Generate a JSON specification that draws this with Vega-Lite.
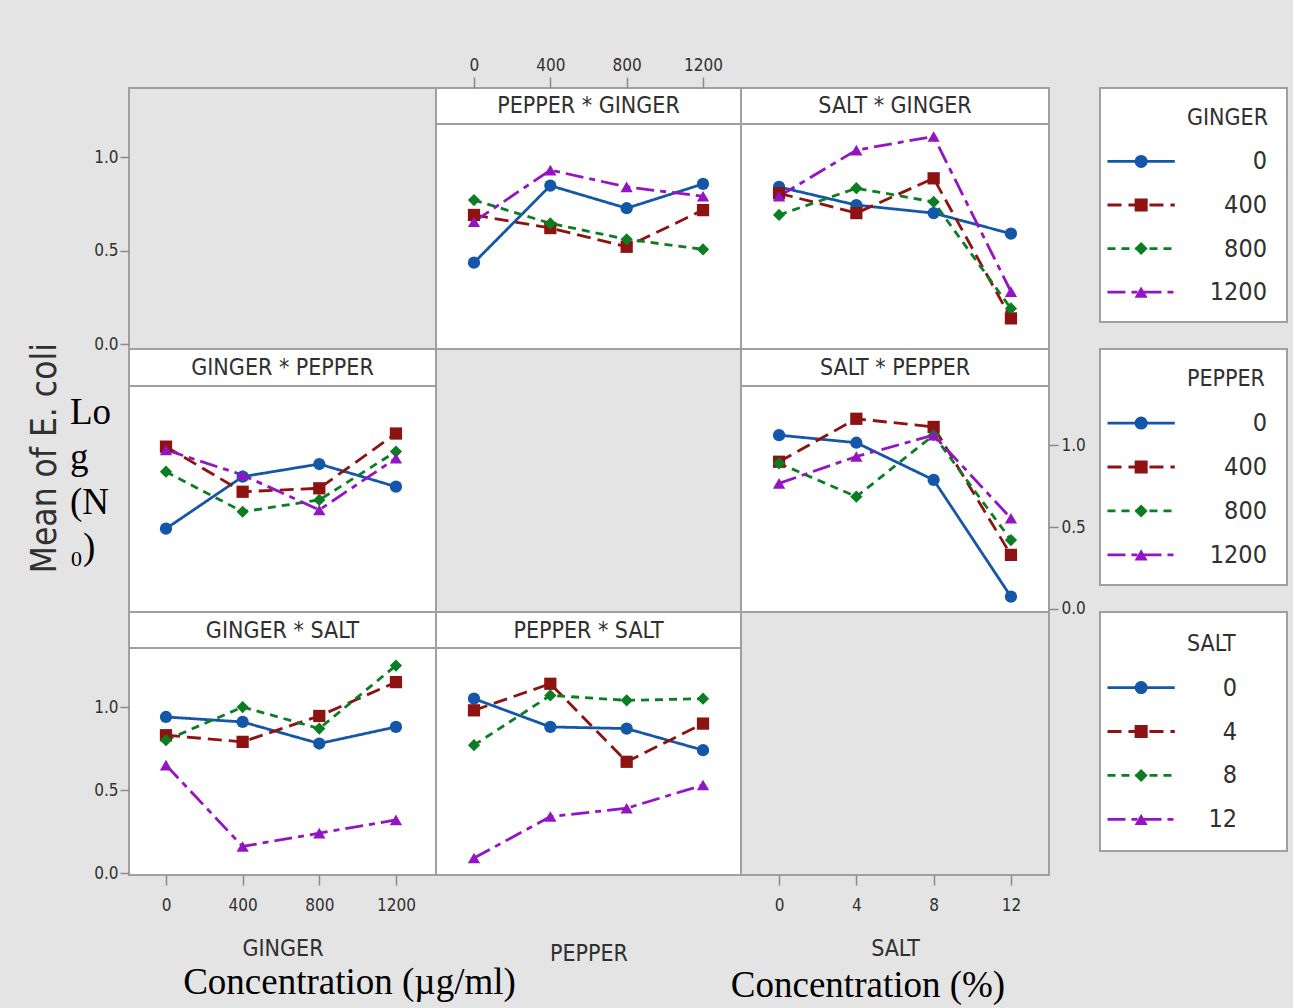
{
  "$schema": "https://vega.github.io/schema/vega-lite/v6.json",
  "background": "#e4e4e4",
  "padding": {"left": 10, "top": 55, "right": 5, "bottom": 5},
  "columns": 6,
  "spacing": 0,
  "bounds": "flush",
  "align": "each",
  "resolve": {"scale": {"x": "independent", "y": "independent", "color": "independent", "shape": "independent", "strokeDash": "independent"}},
  "datasets": {
    "means": [
      {"panel": "PEPPER * GINGER", "x": 0, "level": "0", "value": 0.435},
      {"panel": "PEPPER * GINGER", "x": 400, "level": "0", "value": 0.847},
      {"panel": "PEPPER * GINGER", "x": 800, "level": "0", "value": 0.726},
      {"panel": "PEPPER * GINGER", "x": 1200, "level": "0", "value": 0.856},
      {"panel": "PEPPER * GINGER", "x": 0, "level": "400", "value": 0.69},
      {"panel": "PEPPER * GINGER", "x": 400, "level": "400", "value": 0.62},
      {"panel": "PEPPER * GINGER", "x": 800, "level": "400", "value": 0.52},
      {"panel": "PEPPER * GINGER", "x": 1200, "level": "400", "value": 0.716},
      {"panel": "PEPPER * GINGER", "x": 0, "level": "800", "value": 0.77},
      {"panel": "PEPPER * GINGER", "x": 400, "level": "800", "value": 0.645},
      {"panel": "PEPPER * GINGER", "x": 800, "level": "800", "value": 0.56},
      {"panel": "PEPPER * GINGER", "x": 1200, "level": "800", "value": 0.506},
      {"panel": "PEPPER * GINGER", "x": 0, "level": "1200", "value": 0.654},
      {"panel": "PEPPER * GINGER", "x": 400, "level": "1200", "value": 0.93},
      {"panel": "PEPPER * GINGER", "x": 800, "level": "1200", "value": 0.84},
      {"panel": "PEPPER * GINGER", "x": 1200, "level": "1200", "value": 0.79},
      {"panel": "SALT * GINGER", "x": 0, "level": "0", "value": 0.84},
      {"panel": "SALT * GINGER", "x": 4, "level": "0", "value": 0.743},
      {"panel": "SALT * GINGER", "x": 8, "level": "0", "value": 0.70},
      {"panel": "SALT * GINGER", "x": 12, "level": "0", "value": 0.59},
      {"panel": "SALT * GINGER", "x": 0, "level": "400", "value": 0.806},
      {"panel": "SALT * GINGER", "x": 4, "level": "400", "value": 0.70},
      {"panel": "SALT * GINGER", "x": 8, "level": "400", "value": 0.886},
      {"panel": "SALT * GINGER", "x": 12, "level": "400", "value": 0.137},
      {"panel": "SALT * GINGER", "x": 0, "level": "800", "value": 0.69},
      {"panel": "SALT * GINGER", "x": 4, "level": "800", "value": 0.833},
      {"panel": "SALT * GINGER", "x": 8, "level": "800", "value": 0.76},
      {"panel": "SALT * GINGER", "x": 12, "level": "800", "value": 0.19},
      {"panel": "SALT * GINGER", "x": 0, "level": "1200", "value": 0.79},
      {"panel": "SALT * GINGER", "x": 4, "level": "1200", "value": 1.037},
      {"panel": "SALT * GINGER", "x": 8, "level": "1200", "value": 1.11},
      {"panel": "SALT * GINGER", "x": 12, "level": "1200", "value": 0.28},
      {"panel": "GINGER * PEPPER", "x": 0, "level": "0", "value": 0.49},
      {"panel": "GINGER * PEPPER", "x": 400, "level": "0", "value": 0.807},
      {"panel": "GINGER * PEPPER", "x": 800, "level": "0", "value": 0.884},
      {"panel": "GINGER * PEPPER", "x": 1200, "level": "0", "value": 0.746},
      {"panel": "GINGER * PEPPER", "x": 0, "level": "400", "value": 0.99},
      {"panel": "GINGER * PEPPER", "x": 400, "level": "400", "value": 0.715},
      {"panel": "GINGER * PEPPER", "x": 800, "level": "400", "value": 0.736},
      {"panel": "GINGER * PEPPER", "x": 1200, "level": "400", "value": 1.07},
      {"panel": "GINGER * PEPPER", "x": 0, "level": "800", "value": 0.837},
      {"panel": "GINGER * PEPPER", "x": 400, "level": "800", "value": 0.593},
      {"panel": "GINGER * PEPPER", "x": 800, "level": "800", "value": 0.665},
      {"panel": "GINGER * PEPPER", "x": 1200, "level": "800", "value": 0.96},
      {"panel": "GINGER * PEPPER", "x": 0, "level": "1200", "value": 0.97},
      {"panel": "GINGER * PEPPER", "x": 400, "level": "1200", "value": 0.817},
      {"panel": "GINGER * PEPPER", "x": 800, "level": "1200", "value": 0.604},
      {"panel": "GINGER * PEPPER", "x": 1200, "level": "1200", "value": 0.919},
      {"panel": "SALT * PEPPER", "x": 0, "level": "0", "value": 1.06},
      {"panel": "SALT * PEPPER", "x": 4, "level": "0", "value": 1.014},
      {"panel": "SALT * PEPPER", "x": 8, "level": "0", "value": 0.787},
      {"panel": "SALT * PEPPER", "x": 12, "level": "0", "value": 0.075},
      {"panel": "SALT * PEPPER", "x": 0, "level": "400", "value": 0.898},
      {"panel": "SALT * PEPPER", "x": 4, "level": "400", "value": 1.16},
      {"panel": "SALT * PEPPER", "x": 8, "level": "400", "value": 1.11},
      {"panel": "SALT * PEPPER", "x": 12, "level": "400", "value": 0.33},
      {"panel": "SALT * PEPPER", "x": 0, "level": "800", "value": 0.888},
      {"panel": "SALT * PEPPER", "x": 4, "level": "800", "value": 0.685},
      {"panel": "SALT * PEPPER", "x": 8, "level": "800", "value": 1.06},
      {"panel": "SALT * PEPPER", "x": 12, "level": "800", "value": 0.42},
      {"panel": "SALT * PEPPER", "x": 0, "level": "1200", "value": 0.766},
      {"panel": "SALT * PEPPER", "x": 4, "level": "1200", "value": 0.93},
      {"panel": "SALT * PEPPER", "x": 8, "level": "1200", "value": 1.06},
      {"panel": "SALT * PEPPER", "x": 12, "level": "1200", "value": 0.553},
      {"panel": "GINGER * SALT", "x": 0, "level": "0", "value": 0.94},
      {"panel": "GINGER * SALT", "x": 400, "level": "0", "value": 0.91},
      {"panel": "GINGER * SALT", "x": 800, "level": "0", "value": 0.78},
      {"panel": "GINGER * SALT", "x": 1200, "level": "0", "value": 0.88},
      {"panel": "GINGER * SALT", "x": 0, "level": "4", "value": 0.83},
      {"panel": "GINGER * SALT", "x": 400, "level": "4", "value": 0.79},
      {"panel": "GINGER * SALT", "x": 800, "level": "4", "value": 0.946},
      {"panel": "GINGER * SALT", "x": 1200, "level": "4", "value": 1.15},
      {"panel": "GINGER * SALT", "x": 0, "level": "8", "value": 0.80},
      {"panel": "GINGER * SALT", "x": 400, "level": "8", "value": 1.0},
      {"panel": "GINGER * SALT", "x": 800, "level": "8", "value": 0.87},
      {"panel": "GINGER * SALT", "x": 1200, "level": "8", "value": 1.25},
      {"panel": "GINGER * SALT", "x": 0, "level": "12", "value": 0.65},
      {"panel": "GINGER * SALT", "x": 400, "level": "12", "value": 0.16},
      {"panel": "GINGER * SALT", "x": 800, "level": "12", "value": 0.24},
      {"panel": "GINGER * SALT", "x": 1200, "level": "12", "value": 0.32},
      {"panel": "PEPPER * SALT", "x": 0, "level": "0", "value": 1.05},
      {"panel": "PEPPER * SALT", "x": 400, "level": "0", "value": 0.88},
      {"panel": "PEPPER * SALT", "x": 800, "level": "0", "value": 0.87},
      {"panel": "PEPPER * SALT", "x": 1200, "level": "0", "value": 0.74},
      {"panel": "PEPPER * SALT", "x": 0, "level": "4", "value": 0.98},
      {"panel": "PEPPER * SALT", "x": 400, "level": "4", "value": 1.14},
      {"panel": "PEPPER * SALT", "x": 800, "level": "4", "value": 0.67},
      {"panel": "PEPPER * SALT", "x": 1200, "level": "4", "value": 0.90},
      {"panel": "PEPPER * SALT", "x": 0, "level": "8", "value": 0.77},
      {"panel": "PEPPER * SALT", "x": 400, "level": "8", "value": 1.07},
      {"panel": "PEPPER * SALT", "x": 800, "level": "8", "value": 1.04},
      {"panel": "PEPPER * SALT", "x": 1200, "level": "8", "value": 1.05},
      {"panel": "PEPPER * SALT", "x": 0, "level": "12", "value": 0.09},
      {"panel": "PEPPER * SALT", "x": 400, "level": "12", "value": 0.34},
      {"panel": "PEPPER * SALT", "x": 800, "level": "12", "value": 0.39},
      {"panel": "PEPPER * SALT", "x": 1200, "level": "12", "value": 0.53}
    ],
    "legend": [
      {"factor": "GINGER", "level": "0"}, {"factor": "GINGER", "level": "400"}, {"factor": "GINGER", "level": "800"}, {"factor": "GINGER", "level": "1200"},
      {"factor": "PEPPER", "level": "0"}, {"factor": "PEPPER", "level": "400"}, {"factor": "PEPPER", "level": "800"}, {"factor": "PEPPER", "level": "1200"},
      {"factor": "SALT", "level": "0"}, {"factor": "SALT", "level": "4"}, {"factor": "SALT", "level": "8"}, {"factor": "SALT", "level": "12"}
    ]
  },
  "concat": [
    {"width": 119, "height": 261, "view": {"stroke": null, "fill": null}, "data": {"values": [{}]}, "mark": {"type": "point", "opacity": 0}},
    {"width": 307, "height": 261, "view": {"fill": "#e4e4e4", "stroke": "#a0a0a0", "strokeWidth": 2}, "data": {"values": [{}]}, "mark": {"type": "point", "opacity": 0},
     "encoding": {"y": {"datum": 0.5, "type": "quantitative", "scale": {"domain": [-0.0267, 1.369], "nice": false, "zero": false}, "axis": {"orient": "left", "values": [0, 0.5, 1], "format": ".1f", "title": null, "tickSize": 9, "labelPadding": 2}}}},
    {"width": 305, "height": 261, "view": {"fill": "white", "stroke": "#a0a0a0", "strokeWidth": 2},
     "layer": [
       {"data": {"name": "means"}, "transform": [{"filter": "datum.panel === 'PEPPER * GINGER'"}], "mark": {"type": "line", "strokeWidth": 2.8},
        "encoding": {
          "x": {"field": "x", "type": "quantitative", "scale": {"domain": [-199, 1399], "nice": false, "zero": false}, "axis": {"orient": "top", "values": [0, 400, 800, 1200], "format": "d", "title": null, "tickSize": 11, "labelPadding": 3}},
          "y": {"field": "value", "type": "quantitative", "scale": {"domain": [-0.0267, 1.369], "nice": false, "zero": false}, "axis": null},
          "color": {"field": "level", "type": "nominal", "scale": {"domain": ["0", "400", "800", "1200"], "range": ["#1457a8", "#8e1212", "#0b7d22", "#9414c4"]}, "legend": null},
          "strokeDash": {"field": "level", "type": "nominal", "scale": {"domain": ["0", "400", "800", "1200"], "range": [[1, 0], [14, 7], [8, 6], [18, 6, 6, 6]]}, "legend": null}}},
       {"data": {"name": "means"}, "transform": [{"filter": "datum.panel === 'PEPPER * GINGER'"}], "mark": {"type": "point", "filled": true, "size": 150, "opacity": 1},
        "encoding": {
          "x": {"field": "x", "type": "quantitative"},
          "y": {"field": "value", "type": "quantitative"},
          "color": {"field": "level", "type": "nominal", "scale": {"domain": ["0", "400", "800", "1200"], "range": ["#1457a8", "#8e1212", "#0b7d22", "#9414c4"]}, "legend": null},
          "shape": {"field": "level", "type": "nominal", "scale": {"domain": ["0", "400", "800", "1200"], "range": ["circle", "square", "diamond", "triangle-up"]}, "legend": null}}},
       {"data": {"values": [{"panel": "PEPPER * GINGER"}]}, "mark": {"type": "rule", "color": "#a0a0a0", "strokeWidth": 2}, "encoding": {"y": {"datum": 1.1765, "type": "quantitative"}}},
       {"data": {"values": [{"panel": "PEPPER * GINGER"}]}, "mark": {"type": "text", "fontSize": 23, "color": "#303030", "baseline": "middle"}, "encoding": {"y": {"datum": 1.2727, "type": "quantitative"}, "text": {"field": "panel"}}}
     ]},
    {"width": 308, "height": 261, "view": {"fill": "white", "stroke": "#a0a0a0", "strokeWidth": 2},
     "layer": [
       {"data": {"name": "means"}, "transform": [{"filter": "datum.panel === 'SALT * GINGER'"}], "mark": {"type": "line", "strokeWidth": 2.8},
        "encoding": {
          "x": {"field": "x", "type": "quantitative", "scale": {"domain": [-1.97, 13.97], "nice": false, "zero": false}, "axis": null},
          "y": {"field": "value", "type": "quantitative", "scale": {"domain": [-0.0267, 1.369], "nice": false, "zero": false}, "axis": null},
          "color": {"field": "level", "type": "nominal", "scale": {"domain": ["0", "400", "800", "1200"], "range": ["#1457a8", "#8e1212", "#0b7d22", "#9414c4"]}, "legend": null},
          "strokeDash": {"field": "level", "type": "nominal", "scale": {"domain": ["0", "400", "800", "1200"], "range": [[1, 0], [14, 7], [8, 6], [18, 6, 6, 6]]}, "legend": null}}},
       {"data": {"name": "means"}, "transform": [{"filter": "datum.panel === 'SALT * GINGER'"}], "mark": {"type": "point", "filled": true, "size": 150, "opacity": 1},
        "encoding": {
          "x": {"field": "x", "type": "quantitative"},
          "y": {"field": "value", "type": "quantitative"},
          "color": {"field": "level", "type": "nominal", "scale": {"domain": ["0", "400", "800", "1200"], "range": ["#1457a8", "#8e1212", "#0b7d22", "#9414c4"]}, "legend": null},
          "shape": {"field": "level", "type": "nominal", "scale": {"domain": ["0", "400", "800", "1200"], "range": ["circle", "square", "diamond", "triangle-up"]}, "legend": null}}},
       {"data": {"values": [{"panel": "SALT * GINGER"}]}, "mark": {"type": "rule", "color": "#a0a0a0", "strokeWidth": 2}, "encoding": {"y": {"datum": 1.1765, "type": "quantitative"}}},
       {"data": {"values": [{"panel": "SALT * GINGER"}]}, "mark": {"type": "text", "fontSize": 23, "color": "#303030", "baseline": "middle"}, "encoding": {"y": {"datum": 1.2727, "type": "quantitative"}, "text": {"field": "panel"}}}
     ]},
    {"width": 51, "height": 261, "view": {"stroke": null, "fill": null}, "data": {"values": [{}]}, "mark": {"type": "point", "opacity": 0}},
    {"width": 187, "height": 234, "view": {"fill": "white", "stroke": "#a0a0a0", "strokeWidth": 2},
     "layer": [
       {"data": {"name": "legend"}, "transform": [{"filter": "datum.factor === 'GINGER'"}], "mark": {"type": "rule", "strokeWidth": 2.8},
        "encoding": {"x": {"datum": 0.04, "type": "quantitative", "scale": {"domain": [0, 1]}, "axis": null}, "x2": {"datum": 0.4},
          "y": {"field": "level", "type": "ordinal", "scale": {"type": "point", "domain": ["GINGER", "0", "400", "800", "1200"], "padding": 0.686}, "axis": null},
          "color": {"field": "level", "type": "nominal", "scale": {"domain": ["0", "400", "800", "1200"], "range": ["#1457a8", "#8e1212", "#0b7d22", "#9414c4"]}, "legend": null},
          "strokeDash": {"field": "level", "type": "nominal", "scale": {"domain": ["0", "400", "800", "1200"], "range": [[1, 0], [14, 7], [8, 6], [18, 6, 6, 6]]}, "legend": null}}},
       {"data": {"name": "legend"}, "transform": [{"filter": "datum.factor === 'GINGER'"}], "mark": {"type": "point", "filled": true, "size": 170, "opacity": 1},
        "encoding": {"x": {"datum": 0.22, "type": "quantitative"}, "y": {"field": "level", "type": "ordinal"},
          "color": {"field": "level", "type": "nominal", "legend": null},
          "shape": {"field": "level", "type": "nominal", "scale": {"domain": ["0", "400", "800", "1200"], "range": ["circle", "square", "diamond", "triangle-up"]}, "legend": null}}},
       {"data": {"name": "legend"}, "transform": [{"filter": "datum.factor === 'GINGER'"}], "mark": {"type": "text", "align": "right", "baseline": "middle", "fontSize": 25, "color": "#303030"},
        "encoding": {"x": {"datum": 0.893, "type": "quantitative"}, "y": {"field": "level", "type": "ordinal"}, "text": {"field": "level"}}},
       {"data": {"values": [{"title": "GINGER"}]}, "mark": {"type": "text", "align": "left", "baseline": "middle", "fontSize": 23, "color": "#303030"},
        "encoding": {"x": {"datum": 0.465, "type": "quantitative"}, "y": {"field": "title", "type": "ordinal"}, "text": {"field": "title"}}}
     ]},

    {"width": 119, "height": 263, "view": {"stroke": null, "fill": null},
     "layer": [
       {"data": {"values": [{"label": "Mean of E. coli"}]}, "mark": {"type": "text", "angle": 270, "align": "center", "baseline": "middle", "fontSize": 35, "color": "#303030"},
        "encoding": {"x": {"datum": 0.294, "type": "quantitative", "scale": {"domain": [0, 1]}, "axis": null}, "y": {"datum": 0.585, "type": "quantitative", "scale": {"domain": [0, 1]}, "axis": null}, "text": {"field": "label"}}},
       {"data": {"values": [{"label": "Lo\ng\n(N\n₀)"}]}, "mark": {"type": "text", "align": "left", "baseline": "alphabetic", "font": "Liberation Serif", "fontSize": 37, "lineBreak": "\n", "lineHeight": 45, "color": "black"},
        "encoding": {"x": {"datum": 0.504, "type": "quantitative"}, "y": {"datum": 0.714, "type": "quantitative"}, "text": {"field": "label"}}}
     ]},
    {"width": 307, "height": 263, "view": {"fill": "white", "stroke": "#a0a0a0", "strokeWidth": 2},
     "layer": [
       {"data": {"name": "means"}, "transform": [{"filter": "datum.panel === 'GINGER * PEPPER'"}], "mark": {"type": "line", "strokeWidth": 2.8},
        "encoding": {
          "x": {"field": "x", "type": "quantitative", "scale": {"domain": [-193, 1409], "nice": false, "zero": false}, "axis": null},
          "y": {"field": "value", "type": "quantitative", "scale": {"domain": [-0.0183, 1.5854], "nice": false, "zero": false}, "axis": null},
          "color": {"field": "level", "type": "nominal", "scale": {"domain": ["0", "400", "800", "1200"], "range": ["#1457a8", "#8e1212", "#0b7d22", "#9414c4"]}, "legend": null},
          "strokeDash": {"field": "level", "type": "nominal", "scale": {"domain": ["0", "400", "800", "1200"], "range": [[1, 0], [14, 7], [8, 6], [18, 6, 6, 6]]}, "legend": null}}},
       {"data": {"name": "means"}, "transform": [{"filter": "datum.panel === 'GINGER * PEPPER'"}], "mark": {"type": "point", "filled": true, "size": 150, "opacity": 1},
        "encoding": {
          "x": {"field": "x", "type": "quantitative"},
          "y": {"field": "value", "type": "quantitative"},
          "color": {"field": "level", "type": "nominal", "scale": {"domain": ["0", "400", "800", "1200"], "range": ["#1457a8", "#8e1212", "#0b7d22", "#9414c4"]}, "legend": null},
          "shape": {"field": "level", "type": "nominal", "scale": {"domain": ["0", "400", "800", "1200"], "range": ["circle", "square", "diamond", "triangle-up"]}, "legend": null}}},
       {"data": {"values": [{"panel": "GINGER * PEPPER"}]}, "mark": {"type": "rule", "color": "#a0a0a0", "strokeWidth": 2}, "encoding": {"y": {"datum": 1.3598, "type": "quantitative"}}},
       {"data": {"values": [{"panel": "GINGER * PEPPER"}]}, "mark": {"type": "text", "fontSize": 23, "color": "#303030", "baseline": "middle"}, "encoding": {"y": {"datum": 1.4695, "type": "quantitative"}, "text": {"field": "panel"}}}
     ]},
    {"width": 305, "height": 263, "view": {"fill": "#e4e4e4", "stroke": "#a0a0a0", "strokeWidth": 2}, "data": {"values": [{}]}, "mark": {"type": "point", "opacity": 0}},
    {"width": 308, "height": 263, "view": {"fill": "white", "stroke": "#a0a0a0", "strokeWidth": 2},
     "layer": [
       {"data": {"name": "means"}, "transform": [{"filter": "datum.panel === 'SALT * PEPPER'"}], "mark": {"type": "line", "strokeWidth": 2.8},
        "encoding": {
          "x": {"field": "x", "type": "quantitative", "scale": {"domain": [-1.97, 13.97], "nice": false, "zero": false}, "axis": null},
          "y": {"field": "value", "type": "quantitative", "scale": {"domain": [-0.0183, 1.5854], "nice": false, "zero": false}, "axis": {"orient": "right", "values": [0, 0.5, 1], "format": ".1f", "title": null, "tickSize": 9, "labelPadding": 3}},
          "color": {"field": "level", "type": "nominal", "scale": {"domain": ["0", "400", "800", "1200"], "range": ["#1457a8", "#8e1212", "#0b7d22", "#9414c4"]}, "legend": null},
          "strokeDash": {"field": "level", "type": "nominal", "scale": {"domain": ["0", "400", "800", "1200"], "range": [[1, 0], [14, 7], [8, 6], [18, 6, 6, 6]]}, "legend": null}}},
       {"data": {"name": "means"}, "transform": [{"filter": "datum.panel === 'SALT * PEPPER'"}], "mark": {"type": "point", "filled": true, "size": 150, "opacity": 1},
        "encoding": {
          "x": {"field": "x", "type": "quantitative"},
          "y": {"field": "value", "type": "quantitative"},
          "color": {"field": "level", "type": "nominal", "scale": {"domain": ["0", "400", "800", "1200"], "range": ["#1457a8", "#8e1212", "#0b7d22", "#9414c4"]}, "legend": null},
          "shape": {"field": "level", "type": "nominal", "scale": {"domain": ["0", "400", "800", "1200"], "range": ["circle", "square", "diamond", "triangle-up"]}, "legend": null}}},
       {"data": {"values": [{"panel": "SALT * PEPPER"}]}, "mark": {"type": "rule", "color": "#a0a0a0", "strokeWidth": 2}, "encoding": {"y": {"datum": 1.3598, "type": "quantitative"}}},
       {"data": {"values": [{"panel": "SALT * PEPPER"}]}, "mark": {"type": "text", "fontSize": 23, "color": "#303030", "baseline": "middle"}, "encoding": {"y": {"datum": 1.4695, "type": "quantitative"}, "text": {"field": "panel"}}}
     ]},
    {"width": 51, "height": 263, "view": {"stroke": null, "fill": null}, "data": {"values": [{}]}, "mark": {"type": "point", "opacity": 0}},
    {"width": 187, "height": 236, "view": {"fill": "white", "stroke": "#a0a0a0", "strokeWidth": 2},
     "layer": [
       {"data": {"name": "legend"}, "transform": [{"filter": "datum.factor === 'PEPPER'"}], "mark": {"type": "rule", "strokeWidth": 2.8},
        "encoding": {"x": {"datum": 0.04, "type": "quantitative", "scale": {"domain": [0, 1]}, "axis": null}, "x2": {"datum": 0.4},
          "y": {"field": "level", "type": "ordinal", "scale": {"type": "point", "domain": ["PEPPER", "0", "400", "800", "1200"], "padding": 0.686}, "axis": null},
          "color": {"field": "level", "type": "nominal", "scale": {"domain": ["0", "400", "800", "1200"], "range": ["#1457a8", "#8e1212", "#0b7d22", "#9414c4"]}, "legend": null},
          "strokeDash": {"field": "level", "type": "nominal", "scale": {"domain": ["0", "400", "800", "1200"], "range": [[1, 0], [14, 7], [8, 6], [18, 6, 6, 6]]}, "legend": null}}},
       {"data": {"name": "legend"}, "transform": [{"filter": "datum.factor === 'PEPPER'"}], "mark": {"type": "point", "filled": true, "size": 170, "opacity": 1},
        "encoding": {"x": {"datum": 0.22, "type": "quantitative"}, "y": {"field": "level", "type": "ordinal"},
          "color": {"field": "level", "type": "nominal", "legend": null},
          "shape": {"field": "level", "type": "nominal", "scale": {"domain": ["0", "400", "800", "1200"], "range": ["circle", "square", "diamond", "triangle-up"]}, "legend": null}}},
       {"data": {"name": "legend"}, "transform": [{"filter": "datum.factor === 'PEPPER'"}], "mark": {"type": "text", "align": "right", "baseline": "middle", "fontSize": 25, "color": "#303030"},
        "encoding": {"x": {"datum": 0.893, "type": "quantitative"}, "y": {"field": "level", "type": "ordinal"}, "text": {"field": "level"}}},
       {"data": {"values": [{"title": "PEPPER"}]}, "mark": {"type": "text", "align": "left", "baseline": "middle", "fontSize": 23, "color": "#303030"},
        "encoding": {"x": {"datum": 0.465, "type": "quantitative"}, "y": {"field": "title", "type": "ordinal"}, "text": {"field": "title"}}}
     ]},

    {"width": 119, "height": 263, "view": {"stroke": null, "fill": null}, "data": {"values": [{}]}, "mark": {"type": "point", "opacity": 0}},
    {"width": 307, "height": 263, "view": {"fill": "white", "stroke": "#a0a0a0", "strokeWidth": 2},
     "title": {"text": "Concentration (µg/ml)", "orient": "bottom", "anchor": "middle", "dx": 67, "offset": 5},
     "layer": [
       {"data": {"name": "means"}, "transform": [{"filter": "datum.panel === 'GINGER * SALT'"}], "mark": {"type": "line", "strokeWidth": 2.8},
        "encoding": {
          "x": {"field": "x", "type": "quantitative", "scale": {"domain": [-193, 1409], "nice": false, "zero": false}, "axis": {"orient": "bottom", "values": [0, 400, 800, 1200], "format": "d", "title": "GINGER", "tickSize": 10, "labelPadding": 12, "titlePadding": 24}},
          "y": {"field": "value", "type": "quantitative", "scale": {"domain": [-0.012, 1.5723], "nice": false, "zero": false}, "axis": {"orient": "left", "values": [0, 0.5, 1], "format": ".1f", "title": null, "tickSize": 9, "labelPadding": 2}},
          "color": {"field": "level", "type": "nominal", "scale": {"domain": ["0", "4", "8", "12"], "range": ["#1457a8", "#8e1212", "#0b7d22", "#9414c4"]}, "legend": null},
          "strokeDash": {"field": "level", "type": "nominal", "scale": {"domain": ["0", "4", "8", "12"], "range": [[1, 0], [14, 7], [8, 6], [18, 6, 6, 6]]}, "legend": null}}},
       {"data": {"name": "means"}, "transform": [{"filter": "datum.panel === 'GINGER * SALT'"}], "mark": {"type": "point", "filled": true, "size": 150, "opacity": 1},
        "encoding": {
          "x": {"field": "x", "type": "quantitative"},
          "y": {"field": "value", "type": "quantitative"},
          "color": {"field": "level", "type": "nominal", "scale": {"domain": ["0", "4", "8", "12"], "range": ["#1457a8", "#8e1212", "#0b7d22", "#9414c4"]}, "legend": null},
          "shape": {"field": "level", "type": "nominal", "scale": {"domain": ["0", "4", "8", "12"], "range": ["circle", "square", "diamond", "triangle-up"]}, "legend": null}}},
       {"data": {"values": [{"panel": "GINGER * SALT"}]}, "mark": {"type": "rule", "color": "#a0a0a0", "strokeWidth": 2}, "encoding": {"y": {"datum": 1.3554, "type": "quantitative"}}},
       {"data": {"values": [{"panel": "GINGER * SALT"}]}, "mark": {"type": "text", "fontSize": 23, "color": "#303030", "baseline": "middle"}, "encoding": {"y": {"datum": 1.4578, "type": "quantitative"}, "text": {"field": "panel"}}}
     ]},
    {"width": 305, "height": 263, "view": {"fill": "white", "stroke": "#a0a0a0", "strokeWidth": 2},
     "layer": [
       {"data": {"name": "means"}, "transform": [{"filter": "datum.panel === 'PEPPER * SALT'"}], "mark": {"type": "line", "strokeWidth": 2.8},
        "encoding": {
          "x": {"field": "x", "type": "quantitative", "scale": {"domain": [-199, 1399], "nice": false, "zero": false}, "axis": {"orient": "bottom", "labels": false, "ticks": false, "title": "PEPPER", "titlePadding": 67}},
          "y": {"field": "value", "type": "quantitative", "scale": {"domain": [-0.012, 1.5723], "nice": false, "zero": false}, "axis": null},
          "color": {"field": "level", "type": "nominal", "scale": {"domain": ["0", "4", "8", "12"], "range": ["#1457a8", "#8e1212", "#0b7d22", "#9414c4"]}, "legend": null},
          "strokeDash": {"field": "level", "type": "nominal", "scale": {"domain": ["0", "4", "8", "12"], "range": [[1, 0], [14, 7], [8, 6], [18, 6, 6, 6]]}, "legend": null}}},
       {"data": {"name": "means"}, "transform": [{"filter": "datum.panel === 'PEPPER * SALT'"}], "mark": {"type": "point", "filled": true, "size": 150, "opacity": 1},
        "encoding": {
          "x": {"field": "x", "type": "quantitative"},
          "y": {"field": "value", "type": "quantitative"},
          "color": {"field": "level", "type": "nominal", "scale": {"domain": ["0", "4", "8", "12"], "range": ["#1457a8", "#8e1212", "#0b7d22", "#9414c4"]}, "legend": null},
          "shape": {"field": "level", "type": "nominal", "scale": {"domain": ["0", "4", "8", "12"], "range": ["circle", "square", "diamond", "triangle-up"]}, "legend": null}}},
       {"data": {"values": [{"panel": "PEPPER * SALT"}]}, "mark": {"type": "rule", "color": "#a0a0a0", "strokeWidth": 2}, "encoding": {"y": {"datum": 1.3554, "type": "quantitative"}}},
       {"data": {"values": [{"panel": "PEPPER * SALT"}]}, "mark": {"type": "text", "fontSize": 23, "color": "#303030", "baseline": "middle"}, "encoding": {"y": {"datum": 1.4578, "type": "quantitative"}, "text": {"field": "panel"}}}
     ]},
    {"width": 308, "height": 263, "view": {"fill": "#e4e4e4", "stroke": "#a0a0a0", "strokeWidth": 2},
     "title": {"text": "Concentration (%)", "orient": "bottom", "anchor": "middle", "dx": -27, "offset": 8},
     "data": {"values": [{}]}, "mark": {"type": "point", "opacity": 0},
     "encoding": {"x": {"datum": 6, "type": "quantitative", "scale": {"domain": [-1.97, 13.97], "nice": false, "zero": false}, "axis": {"orient": "bottom", "values": [0, 4, 8, 12], "format": "d", "title": "SALT", "tickSize": 10, "labelPadding": 12, "titlePadding": 24}}}},
    {"width": 51, "height": 263, "view": {"stroke": null, "fill": null}, "data": {"values": [{}]}, "mark": {"type": "point", "opacity": 0}},
    {"width": 187, "height": 239, "view": {"fill": "white", "stroke": "#a0a0a0", "strokeWidth": 2},
     "layer": [
       {"data": {"name": "legend"}, "transform": [{"filter": "datum.factor === 'SALT'"}], "mark": {"type": "rule", "strokeWidth": 2.8},
        "encoding": {"x": {"datum": 0.04, "type": "quantitative", "scale": {"domain": [0, 1]}, "axis": null}, "x2": {"datum": 0.4},
          "y": {"field": "level", "type": "ordinal", "scale": {"type": "point", "domain": ["SALT", "0", "4", "8", "12"], "padding": 0.72}, "axis": null},
          "color": {"field": "level", "type": "nominal", "scale": {"domain": ["0", "4", "8", "12"], "range": ["#1457a8", "#8e1212", "#0b7d22", "#9414c4"]}, "legend": null},
          "strokeDash": {"field": "level", "type": "nominal", "scale": {"domain": ["0", "4", "8", "12"], "range": [[1, 0], [14, 7], [8, 6], [18, 6, 6, 6]]}, "legend": null}}},
       {"data": {"name": "legend"}, "transform": [{"filter": "datum.factor === 'SALT'"}], "mark": {"type": "point", "filled": true, "size": 170, "opacity": 1},
        "encoding": {"x": {"datum": 0.22, "type": "quantitative"}, "y": {"field": "level", "type": "ordinal"},
          "color": {"field": "level", "type": "nominal", "legend": null},
          "shape": {"field": "level", "type": "nominal", "scale": {"domain": ["0", "4", "8", "12"], "range": ["circle", "square", "diamond", "triangle-up"]}, "legend": null}}},
       {"data": {"name": "legend"}, "transform": [{"filter": "datum.factor === 'SALT'"}], "mark": {"type": "text", "align": "right", "baseline": "middle", "fontSize": 25, "color": "#303030"},
        "encoding": {"x": {"datum": 0.733, "type": "quantitative"}, "y": {"field": "level", "type": "ordinal"}, "text": {"field": "level"}}},
       {"data": {"values": [{"title": "SALT"}]}, "mark": {"type": "text", "align": "left", "baseline": "middle", "fontSize": 23, "color": "#303030"},
        "encoding": {"x": {"datum": 0.465, "type": "quantitative"}, "y": {"field": "title", "type": "ordinal"}, "text": {"field": "title"}}}
     ]}
  ],
  "config": {
    "font": "DejaVu Sans Condensed, Liberation Sans Narrow, Roboto Condensed, DejaVu Sans, sans-serif",
    "legend": {"disable": true},
    "axis": {"domain": false, "grid": false, "tickColor": "#8a8a8a", "tickWidth": 1.5, "labelColor": "#303030", "labelFontSize": 17, "labelFont": "DejaVu Sans Condensed, Liberation Sans Narrow, Roboto Condensed, DejaVu Sans, sans-serif", "titleFont": "DejaVu Sans Condensed, Liberation Sans Narrow, Roboto Condensed, DejaVu Sans, sans-serif", "titleFontSize": 23, "titleFontWeight": "normal", "titleColor": "#303030"},
    "text": {"font": "DejaVu Sans Condensed, Liberation Sans Narrow, Roboto Condensed, DejaVu Sans, sans-serif"},
    "title": {"font": "Liberation Serif", "fontWeight": "normal", "color": "black", "fontSize": 37}
  }
}
